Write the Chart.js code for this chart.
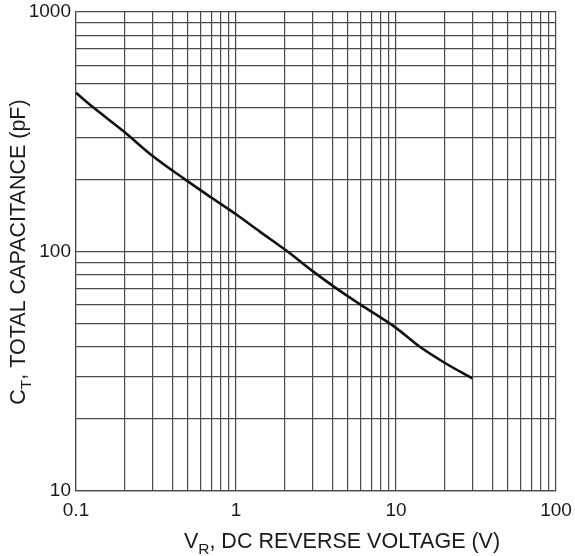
<!DOCTYPE html>
<html>
<head>
<meta charset="utf-8">
<script src="https://cdn.jsdelivr.net/npm/chart.js@4/dist/chart.umd.min.js"></script>
<style>
  html, body { margin: 0; padding: 0; background: #fff; }
  #wrap { width: 575px; height: 556px; position: relative; }
</style>
</head>
<body>
<div id="wrap"><canvas id="c"></canvas></div>
<script>
// Data
const voltage = [0.1, 0.128, 0.2, 0.3, 0.48, 0.7, 1, 1.41, 2.1, 3, 4.26, 6, 10, 14.1, 20, 30];
const capacitance = [460, 400, 316, 251, 200, 168, 143, 121, 100, 83, 70, 60, 48, 40, 34.4, 29.5];

// Axis decades and tick labels
const xDecades = [0.1, 1, 10, 100];
const xTickLabels = ['0.1', '1', '10', '100'];
const yDecades = [10, 100, 1000];
const yTickLabels = ['10', '100', '1000'];
const minorSteps = [1, 2, 3, 4, 5, 6, 7, 8, 9];

function gridValues(decades) {
  const out = [];
  for (let i = 0; i < decades.length - 1; i++) {
    minorSteps.forEach(m => out.push(decades[i] * m));
  }
  out.push(decades[decades.length - 1]);
  return out;
}
function labelFor(value, decades, labels) {
  for (let i = 0; i < decades.length; i++) {
    if (Math.abs(Math.log10(value) - Math.log10(decades[i])) < 1e-6) return labels[i];
  }
  return '';
}

const FONT = '"Liberation Sans", Arial, Helvetica, sans-serif';
const gridColor = '#4a4a4a';

const titlePlugin = {
  id: 'customTitles',
  afterDraw(chart) {
    const ctx = chart.ctx;
    ctx.save();
    ctx.fillStyle = '#1a1a1a';
    ctx.textBaseline = 'alphabetic';
    const big = '21.5px ' + FONT, small = '15.5px ' + FONT;
    // X title: V_R, DC REVERSE VOLTAGE (V)
    const xParts = [['V', big, 0], ['R', small, 6], [', DC REVERSE VOLTAGE (V)', big, 0]];
    drawParts(ctx, xParts, 342, 548, 0);
    // Y title: C_T, TOTAL CAPACITANCE (pF)
    const yParts = [['C', big, 0], ['T', small, 6], [', TOTAL CAPACITANCE (pF)', big, 0]];
    drawParts(ctx, yParts, 25, 252, -Math.PI / 2);
    ctx.restore();
  }
};
function drawParts(ctx, parts, cx, cy, rot) {
  let total = 0;
  parts.forEach(p => { ctx.font = p[1]; total += ctx.measureText(p[0]).width; });
  ctx.save();
  ctx.translate(cx, cy);
  ctx.rotate(rot);
  let x = -total / 2;
  parts.forEach(p => {
    ctx.font = p[1];
    ctx.fillText(p[0], x, p[2]);
    x += ctx.measureText(p[0]).width;
  });
  ctx.restore();
}

new Chart(document.getElementById('c'), {
  type: 'line',
  data: {
    datasets: [{
      data: voltage.map((v, i) => ({ x: v, y: capacitance[i] })),
      borderColor: '#111',
      borderWidth: 2.6,
      pointRadius: 0,
      cubicInterpolationMode: 'monotone',
      fill: false
    }]
  },
  options: {
    responsive: true,
    maintainAspectRatio: false,
    animation: false,
    layout: { padding: { left: 0, right: 19, top: 12, bottom: 0 } },
    plugins: { legend: { display: false }, tooltip: { enabled: false } },
    scales: {
      x: {
        type: 'logarithmic',
        min: 0.1, max: 100,
        afterBuildTicks: axis => { axis.ticks = gridValues(xDecades).map(v => ({ value: v })); },
        afterFit: scale => { scale.height = 65; scale.paddingLeft = 0; scale.paddingRight = 0; },
        grid: { color: gridColor, lineWidth: 1.2, drawTicks: false },
        border: { color: gridColor, width: 1.2 },
        ticks: {
          autoSkip: false, maxRotation: 0, padding: 8,
          color: '#1a1a1a',
          font: { family: FONT, size: 19 },
          callback: v => labelFor(v, xDecades, xTickLabels)
        }
      },
      y: {
        type: 'logarithmic',
        min: 10, max: 1000,
        afterBuildTicks: axis => { axis.ticks = gridValues(yDecades).map(v => ({ value: v })); },
        afterFit: scale => { scale.width = 76; scale.paddingTop = 0; scale.paddingBottom = 0; },
        grid: { color: gridColor, lineWidth: 1.2, drawTicks: false },
        border: { color: gridColor, width: 1.2 },
        ticks: {
          autoSkip: false, padding: 5,
          color: '#1a1a1a',
          font: { family: FONT, size: 19 },
          callback: v => labelFor(v, yDecades, yTickLabels)
        }
      }
    }
  },
  plugins: [titlePlugin]
});
</script>
</body>
</html>
